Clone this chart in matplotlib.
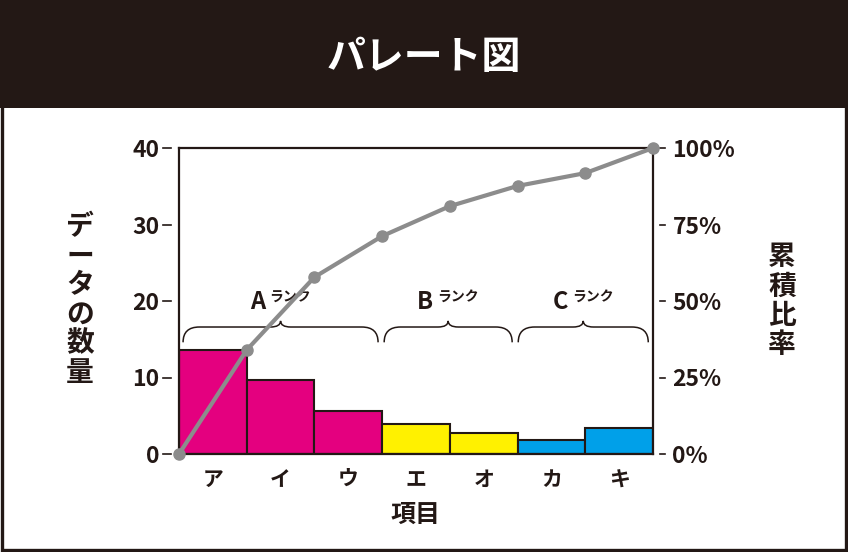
import matplotlib.pyplot as plt
from matplotlib.patches import PathPatch, Rectangle
from matplotlib.path import Path
import matplotlib.transforms as mtransforms

plt.rcParams["font.family"] = ["Noto Sans CJK JP", "DejaVu Sans"]
plt.rcParams["font.weight"] = "bold"

# data
items = ["ア", "イ", "ウ", "エ", "オ", "カ", "キ"]
counts = [13.6, 9.7, 5.6, 3.9, 2.75, 1.8, 3.4]
bar_colors = ["#e4007f", "#e4007f", "#e4007f", "#fff100", "#fff100", "#00a0e9", "#00a0e9"]
cumulative_pct = [0, 34, 57.8, 71.2, 81, 87.6, 91.8, 100]
count_ticks = [0, 10, 20, 30, 40]
pct_ticks = [0, 25, 50, 75, 100]
ranks = ["A", "B", "C"]
rank_spans = [(-0.44, 2.44), (2.53, 4.42), (4.51, 6.43)]

DARK = "#231815"
GRAY = "#8c8c8c"


def draw_brace(ax, x0, x1, yb=14.6, yh=16.6, yp=17.4, rx=0.24, rm=0.15):
    xm = (x0 + x1) / 2
    verts = [
        (x0, yb), (x0, yh), (x0 + rx, yh),
        (xm - rm, yh),
        (xm, yh), (xm, yp),
        (xm, yh), (xm + rm, yh),
        (x1 - rx, yh),
        (x1, yh), (x1, yb),
    ]
    codes = [
        Path.MOVETO, Path.CURVE3, Path.CURVE3,
        Path.LINETO,
        Path.CURVE3, Path.CURVE3,
        Path.CURVE3, Path.CURVE3,
        Path.LINETO,
        Path.CURVE3, Path.CURVE3,
    ]
    ax.add_patch(PathPatch(Path(verts, codes), facecolor="none", edgecolor=DARK,
                           linewidth=1.1, zorder=3))
    return xm


fig = plt.figure(figsize=(8.48, 5.52), dpi=100)

# header band and frame
fig.patches.append(Rectangle((0, 1 - 108 / 552), 1, 108 / 552, transform=fig.transFigure,
                             facecolor=DARK, edgecolor="none", zorder=0))
fig.patches.append(Rectangle((0.002, 0.003), 0.996, 0.994, transform=fig.transFigure,
                             facecolor="none", edgecolor=DARK, linewidth=2.4, zorder=1))
fig.text(0.5, 0.895, "パレート図", color="white", fontsize=28, fontweight="bold",
         ha="center", va="center")

ax = fig.add_axes([179 / 848, 98 / 552, 474 / 848, 306 / 552])
ax.bar(range(len(items)), counts, width=1.0, color=bar_colors, edgecolor=DARK,
       linewidth=1.5, zorder=2)
ax.set_xlim(-0.5, len(items) - 0.5)
ax.set_ylim(0, 40)
ax.set_yticks(count_ticks)
ax.set_xticks(range(len(items)))
ax.set_xticklabels(items, fontsize=15, fontweight="bold", color=DARK)
ax.tick_params(axis="x", length=0, pad=11)
ax.tick_params(axis="y", length=0, pad=14, labelsize=16.5, colors=DARK)
for lab in ax.get_yticklabels():
    lab.set_fontweight("bold")
for sp in ax.spines.values():
    sp.set_color(DARK)
    sp.set_linewidth(1.6)
ax.set_xlabel("項目", fontsize=18, fontweight="bold", color=DARK, labelpad=9)

ax2 = ax.twinx()
ax2.set_ylim(0, 100)
ax2.set_yticks(pct_ticks)
ax2.set_yticklabels([f"{t}%" for t in pct_ticks])
ax2.tick_params(axis="y", length=0, pad=14, labelsize=16.5, colors=DARK)
for lab in ax2.get_yticklabels():
    lab.set_fontweight("bold")
for sp in ax2.spines.values():
    sp.set_visible(False)
line_x = [i - 0.5 for i in range(len(cumulative_pct))]
ax2.plot(line_x, cumulative_pct, color=GRAY, linewidth=3, marker="o", markersize=8,
         clip_on=False, zorder=5)

# detached short tick dashes
left_tr = mtransforms.blended_transform_factory(ax.transAxes, ax.transData)
for t in count_ticks:
    ax.plot([-0.034, -0.017], [t, t], color=DARK, linewidth=1.2, transform=left_tr,
            clip_on=False)
right_tr = mtransforms.blended_transform_factory(ax2.transAxes, ax2.transData)
for t in pct_ticks:
    ax2.plot([1.015, 1.025], [t, t], color=DARK, linewidth=1.2, transform=right_tr,
             clip_on=False)

# rank braces
for rank, (x0, x1) in zip(ranks, rank_spans):
    xm = draw_brace(ax, x0, x1)
    ax.annotate(rank, (xm, 19.9), xytext=(-11, 0), textcoords="offset points",
                ha="right", va="center", fontsize=17, fontweight="bold", color=DARK)
    ax.annotate("ランク", (xm, 20.5), xytext=(-8, 0), textcoords="offset points",
                ha="left", va="center", fontsize=10, fontweight="bold", color=DARK)

# vertical axis titles
fig.text(80 / 848, 1 - 300 / 552, "\n".join("データの数量"), fontsize=20,
         fontweight="bold", color=DARK, ha="center", va="center", linespacing=1.05)
fig.text(782 / 848, 1 - 301 / 552, "\n".join("累積比率"), fontsize=20,
         fontweight="bold", color=DARK, ha="center", va="center", linespacing=1.05)

fig.savefig("out.png", dpi=100)
